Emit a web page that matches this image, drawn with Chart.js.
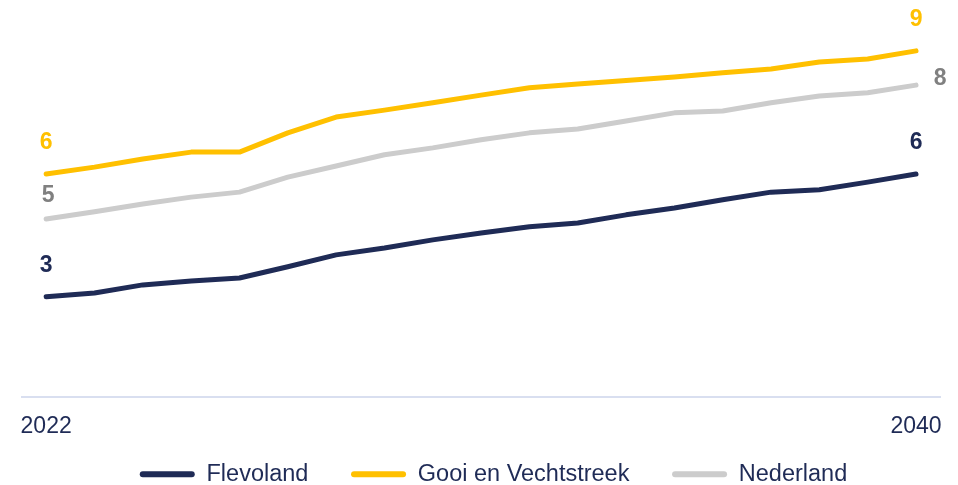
<!DOCTYPE html>
<html>
<head>
<meta charset="utf-8">
<script src="https://cdn.jsdelivr.net/npm/chart.js@4.4.1/dist/chart.umd.min.js"></script>
<style>
  html, body { margin: 0; padding: 0; background: #fff; }
  #wrap { width: 958px; height: 485px; }
</style>
</head>
<body>
<div id="wrap"><canvas id="myChart" width="958" height="485"></canvas></div>
<script>
const years = ["2022","2023","2024","2025","2026","2027","2028","2029","2030","2031","2032","2033","2034","2035","2036","2037","2038","2039","2040"];
const flevoland = [2.60,2.70,2.91,3.01,3.09,3.38,3.69,3.87,4.08,4.26,4.42,4.52,4.73,4.91,5.12,5.32,5.38,5.58,5.79];
const gooi = [5.79,5.97,6.18,6.36,6.36,6.86,7.27,7.45,7.64,7.84,8.03,8.13,8.22,8.31,8.42,8.52,8.70,8.78,8.99];
const nederland = [4.62,4.81,5.01,5.19,5.32,5.71,6.00,6.29,6.47,6.68,6.86,6.96,7.17,7.38,7.43,7.64,7.82,7.90,8.10];

const navy = "#1f2b56";
const yellow = "#ffc000";
const grey = "#cccccc";
const font = "'Liberation Sans', Arial, sans-serif";

// draws the rounded value at first and last point of each line
const endLabels = {
  id: "endLabels",
  afterDatasetsDraw(chart) {
    const ctx = chart.ctx;
    ctx.save();
    ctx.font = "bold 23px " + font;
    ctx.textBaseline = "middle";
    ctx.textAlign = "center";
    chart.data.datasets.forEach((ds, i) => {
      const meta = chart.getDatasetMeta(i);
      const last = ds.data.length - 1;
      ctx.fillStyle = ds.labelColor;
      [0, last].forEach(idx => {
        const pt = meta.data[idx];
        let x = pt.x, y = pt.y - 31;
        if (ds.label === "Nederland") {
          if (idx === last) { x = pt.x + 24; y = pt.y - 6; }
          else { x = pt.x + 2; y = pt.y - 23; }
        }
        ctx.fillText(Math.round(ds.data[idx]), x, y);
      });
    });
    ctx.restore();
  }
};

// nudge the legend into place
const legendShift = {
  id: "legendShift",
  afterLayout(chart) {
    const lg = chart.legend;
    lg.top -= 4; lg.bottom -= 4;
    lg.left += 11; lg.right += 11;
  }
};

let myChart = null;

function createChart() {
  const data = {
    labels: years,
    datasets: [
      { label: "Flevoland", data: flevoland, borderColor: navy, backgroundColor: navy, labelColor: navy },
      { label: "Gooi en Vechtstreek", data: gooi, borderColor: yellow, backgroundColor: yellow, labelColor: yellow },
      { label: "Nederland", data: nederland, borderColor: grey, backgroundColor: grey, labelColor: "#808080" }
    ]
  };
  data.datasets.forEach(d => {
    d.borderWidth = 5;
    d.pointRadius = 0;
    d.tension = 0;
    d.fill = false;
    d.borderCapStyle = "round";
    d.borderJoinStyle = "round";
  });

  const config = {
    type: "line",
    data: data,
    options: {
      responsive: false,
      animation: false,
      layout: { padding: { top: 12, left: 22, right: 15, bottom: -15 } },
      plugins: {
        tooltip: { enabled: false },
        legend: {
          position: "bottom",
          labels: {
            color: navy,
            font: { family: font, size: 23.5 },
            boxWidth: 55,
            boxHeight: 6,
            useBorderRadius: true,
            borderRadius: 3,
            padding: 10,
            generateLabels(chart) {
              const items = Chart.defaults.plugins.legend.labels.generateLabels(chart);
              items.forEach((it, i) => {
                it.lineWidth = 0;
                if (i < items.length - 1) it.text += "     ";
              });
              return items;
            }
          }
        }
      },
      scales: {
        x: {
          offset: true,
          grid: { display: false, drawTicks: false },
          border: { display: true, color: "#d9dff0", width: 2 },
          ticks: {
            autoSkip: false,
            maxRotation: 0,
            padding: 16,
            color: navy,
            font: { family: font, size: 23 },
            callback: function(v, i) { return (i === 0 || i === years.length - 1) ? years[i] : ""; }
          }
        },
        y: { display: false, min: 0, max: 10 }
      }
    },
    plugins: [endLabels, legendShift]
  };

  const ctx = document.getElementById("myChart").getContext("2d");
  if (myChart != null) myChart.destroy();
  myChart = new Chart(ctx, config);
}
createChart();
</script>
</body>
</html>
